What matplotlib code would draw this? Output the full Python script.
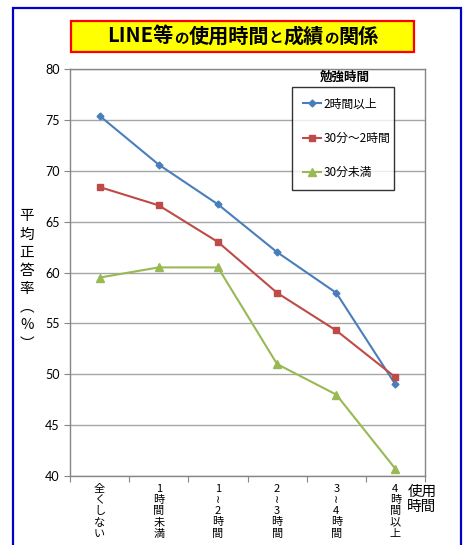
import numpy as np
import matplotlib
matplotlib.use("Agg")
import matplotlib.pyplot as plt
import matplotlib.transforms as mtransforms
from matplotlib.patches import Rectangle
from matplotlib.offsetbox import TextArea, HPacker, AnchoredOffsetbox

plt.rcParams['font.family'] = ['Noto Sans CJK JP', 'DejaVu Sans']

# data
categories = ["全\nく\nし\nな\nい", "1\n時\n間\n未\n満", "1\n≀\n2\n時\n間",
              "2\n≀\n3\n時\n間", "3\n≀\n4\n時\n間", "4\n時\n間\n以\n上"]
over_2h = [75.4, 70.6, 66.7, 62.0, 58.0, 49.0]
min30_2h = [68.4, 66.6, 63.0, 58.0, 54.3, 49.7]
under_30 = [59.5, 60.5, 60.5, 51.0, 48.0, 40.7]
series_names = ["2時間以上", "30分～2時間", "30分未満"]
# title pieces: (text, small?)
title_parts = [("LINE等", False), ("の", True), ("使用時間", False), ("と", True),
               ("成績", False), ("の", True), ("関係", False)]
ylabel = "平\n均\n正\n答\n率\n︵\n%\n︶"
xlabel = "使用\n時間"
legend_title = "勉強時間"

W, H = 467, 545
fig = plt.figure(figsize=(W / 100, H / 100), dpi=100)
fig.patch.set_facecolor("white")

# outer blue frame
fig.add_artist(Rectangle((13 / W, -0.02), 448 / W, 1 - 8 / H + 0.02,
                         transform=fig.transFigure, fill=False,
                         edgecolor="#0000cc", linewidth=1.6))

# title box
fig.add_artist(Rectangle((71 / W, 1 - 52 / H), 343 / W, 31 / H,
                         transform=fig.transFigure, facecolor="#ffff00",
                         edgecolor="#ff0000", linewidth=1.6))
areas = [TextArea(t, textprops=dict(fontsize=10.5 if small else 14.5,
                                    fontweight="bold", color="black"))
         for t, small in title_parts]
pack = HPacker(children=areas, align="baseline", pad=0, sep=0)
fig.add_artist(AnchoredOffsetbox(loc="center", child=pack, frameon=False,
                                 bbox_to_anchor=(243 / W, 1 - 36 / H),
                                 bbox_transform=fig.transFigure, pad=0,
                                 borderpad=0))

ax = fig.add_axes([70 / W, 1 - 476 / H, 355 / W, 407 / H])
x = np.arange(len(categories))

ax.plot(x, over_2h, color="#4a7ebb", lw=1.5, marker="D", ms=3.5,
        label=series_names[0])
ax.plot(x, min30_2h, color="#be4b48", lw=1.5, marker="s", ms=5,
        label=series_names[1])
ax.plot(x, under_30, color="#98b954", lw=1.5, marker="^", ms=5.5,
        label=series_names[2])

ax.set_xlim(-0.5, len(categories) - 0.5)
ax.set_ylim(40, 80)
ax.set_yticks(np.arange(40, 81, 5))
ax.set_xticks(np.arange(-0.5, len(categories), 1))
ax.set_xticklabels([])
ax.yaxis.grid(True, color="#a6a6a6", lw=1.0)
ax.set_axisbelow(True)
for s in ax.spines.values():
    s.set_color("#868686")
    s.set_linewidth(1.0)
ax.tick_params(axis="both", direction="out", length=4, color="#868686",
               labelsize=9)
for lab in ax.get_yticklabels():
    lab.set_family(["Lato", "DejaVu Sans"])

trans = mtransforms.blended_transform_factory(ax.transData, ax.transAxes)
for i, c in enumerate(categories):
    ax.text(i, -0.02, c, transform=trans, ha="center", va="top",
            fontsize=8, linespacing=1.14)

fig.text(422 / W, 1 - 485 / H, xlabel, ha="center", va="top", fontsize=10.5,
         linespacing=1.05)
fig.text(27 / W, 1 - 280 / H, ylabel, ha="center", va="center", fontsize=10.5,
         linespacing=1.38)

leg = ax.legend(loc="upper left", bbox_to_anchor=(0.625, 0.708, 0.288, 0.248),
                mode="expand", frameon=True, fancybox=False, fontsize=8.5,
                labelspacing=1.8, handlelength=1.6, handletextpad=0.15,
                borderpad=0.9, borderaxespad=0)
leg.get_frame().set_edgecolor("black")
leg.get_frame().set_linewidth(1.0)
ax.text(0.775, 0.98, legend_title, transform=ax.transAxes, ha="center",
        va="center", fontsize=9, fontweight="bold")

fig.savefig("out.png", dpi=100)
